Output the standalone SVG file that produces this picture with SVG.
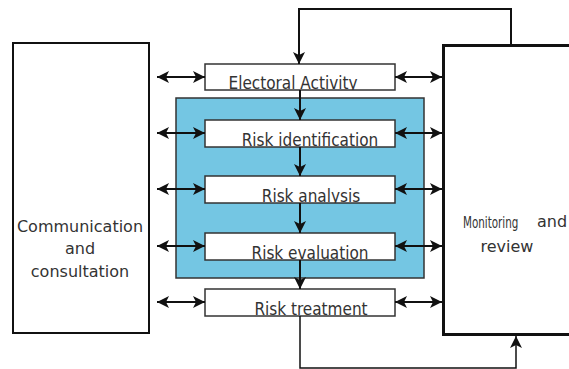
<svg xmlns="http://www.w3.org/2000/svg" width="569" height="369" viewBox="0 0 569 369">
<style>
.box{fill:#fff;stroke:#333;stroke-width:1.5}
.big{fill:#fff;stroke:#111}
.lbl{font-family:"DejaVu Sans Condensed","DejaVu Sans",sans-serif;font-size:17px;fill:#333}
.side{font-family:"DejaVu Sans",sans-serif;font-size:16px;fill:#333;text-anchor:middle}
.ln{fill:none;stroke:#111;stroke-width:2}
.ln1{fill:none;stroke:#111;stroke-width:1.5}
</style>
<defs>
<marker id="ah" viewBox="0 0 12 12" refX="12" refY="6" markerWidth="12" markerHeight="12" markerUnits="userSpaceOnUse" orient="auto-start-reverse">
<path d="M0,0 L12,6 L0,12 L3,6 Z" fill="#111"/>
</marker>
<clipPath id="c1"><rect x="205" y="64" width="190" height="26"/></clipPath>
<clipPath id="c2"><rect x="205" y="120" width="190" height="27"/></clipPath>
<clipPath id="c3"><rect x="205" y="176" width="190" height="27"/></clipPath>
<clipPath id="c4"><rect x="205" y="233" width="190" height="27"/></clipPath>
<clipPath id="c5"><rect x="205" y="289" width="190" height="27"/></clipPath>
</defs>
<rect x="176" y="98" width="248" height="180" fill="#74c6e3" stroke="#333" stroke-width="1.5"/>
<g id="communication">
<rect class="big" x="13" y="43" width="136" height="290" stroke-width="2"/>
<text class="side" x="80" y="232">Communication</text>
<text class="side" x="80" y="254">and</text>
<text class="side" x="80" y="277">consultation</text>
</g>
<g id="monitoring">
<rect class="big" x="443.5" y="45.5" width="140" height="289" stroke-width="3"/>
<text x="463" y="228" font-family="'DejaVu Sans Condensed',sans-serif" font-size="16" fill="#333" transform="translate(463 228) scale(0.72 1) translate(-463 -228)">Monitoring</text>
<text x="537" y="227" font-family="'DejaVu Sans',sans-serif" font-size="16" fill="#333">and</text>
<text x="507" y="252" font-family="'DejaVu Sans',sans-serif" font-size="16" fill="#333" text-anchor="middle">review</text>
</g>
<g id="electoral">
<rect class="box" x="205" y="64" width="190" height="26"/>
<text class="lbl" x="293" y="89" text-anchor="middle" clip-path="url(#c1)">Electoral Activity</text>
</g>
<g id="identification">
<rect class="box" x="205" y="120" width="190" height="27"/>
<text class="lbl" x="310" y="146" text-anchor="middle" clip-path="url(#c2)">Risk identification</text>
</g>
<g id="analysis">
<rect class="box" x="205" y="176" width="190" height="27"/>
<text class="lbl" x="311" y="202" text-anchor="middle" clip-path="url(#c3)">Risk analysis</text>
</g>
<g id="evaluation">
<rect class="box" x="205" y="233" width="190" height="27"/>
<text class="lbl" x="310" y="259" text-anchor="middle" clip-path="url(#c4)">Risk evaluation</text>
</g>
<g id="treatment">
<rect class="box" x="205" y="289" width="190" height="27"/>
<text class="lbl" x="311" y="315" text-anchor="middle" clip-path="url(#c5)">Risk treatment</text>
</g>
<g id="connectors">
<path class="ln" d="M511,44 V9 H299 V64" marker-end="url(#ah)"/>
<path class="ln" d="M300,90 V120" marker-end="url(#ah)"/>
<path class="ln" d="M300,147 V176" marker-end="url(#ah)"/>
<path class="ln" d="M300,203 V233" marker-end="url(#ah)"/>
<path class="ln" d="M300,260 V289" marker-end="url(#ah)"/>
<path class="ln1" d="M300,316 V368 H516 V336" marker-end="url(#ah)"/>
<path class="ln" d="M157,77 H205" marker-start="url(#ah)" marker-end="url(#ah)"/>
<path class="ln" d="M157,133 H205" marker-start="url(#ah)" marker-end="url(#ah)"/>
<path class="ln" d="M157,189 H205" marker-start="url(#ah)" marker-end="url(#ah)"/>
<path class="ln" d="M157,246 H205" marker-start="url(#ah)" marker-end="url(#ah)"/>
<path class="ln" d="M157,302 H205" marker-start="url(#ah)" marker-end="url(#ah)"/>
<path class="ln" d="M395,77 H442" marker-start="url(#ah)" marker-end="url(#ah)"/>
<path class="ln" d="M395,133 H442" marker-start="url(#ah)" marker-end="url(#ah)"/>
<path class="ln" d="M395,189 H442" marker-start="url(#ah)" marker-end="url(#ah)"/>
<path class="ln" d="M395,246 H442" marker-start="url(#ah)" marker-end="url(#ah)"/>
<path class="ln" d="M395,302 H442" marker-start="url(#ah)" marker-end="url(#ah)"/>
</g>
</svg>
